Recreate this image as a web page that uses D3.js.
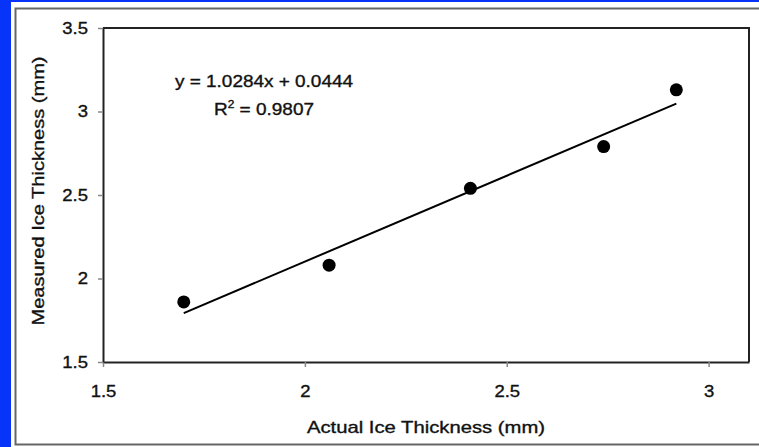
<!DOCTYPE html>
<html>
<head>
  <meta charset="utf-8">
  <title>Measured vs Actual Ice Thickness</title>
  <script src="https://cdn.jsdelivr.net/npm/d3@7/dist/d3.min.js"></script>
  <style>
    body { margin: 0; background: #0834fa; }
    text { font-family: "Liberation Sans", Arial, sans-serif; fill: #111; stroke: #111; stroke-width: 0.35px; }
  </style>
</head>
<body>
  <div id="chart"></div>
  <script>
    // data
    var actualThickness = [1.70, 2.06, 2.41, 2.74, 2.92];
    var measuredThickness = [1.86, 2.08, 2.54, 2.79, 3.13];
    var xTicks = [1.5, 2, 2.5, 3];
    var yTicks = [1.5, 2, 2.5, 3, 3.5];
    var xTickLabels = ["1.5", "2", "2.5", "3"];
    var yTickLabels = ["1.5", "2", "2.5", "3", "3.5"];
    var fitSlope = 1.0284;
    var fitIntercept = 0.0444;
    var rSquared = "0.9807";

    var width = 759, height = 447;
    var margin = { top: 28, right: 10, bottom: 85, left: 103 };

    var svg = d3.select("#chart")
      .append("svg")
      .attr("width", width)
      .attr("height", height);

    // blue slide background + white panel
    svg.append("rect")
      .attr("width", width).attr("height", height)
      .attr("fill", "#0834fa");
    svg.append("rect")
      .attr("x", 11).attr("y", 2)
      .attr("width", width - 11).attr("height", height - 2)
      .attr("fill", "#fff");
    svg.append("path")
      .attr("d", "M" + width + ",8.5H15.5V444.5H" + width)
      .attr("fill", "none")
      .attr("stroke", "#666")
      .attr("stroke-width", 2);

    var x = d3.scaleLinear()
      .domain([1.5, 3.1])
      .range([margin.left, width - margin.right]);
    var y = d3.scaleLinear()
      .domain([1.5, 3.5])
      .range([height - margin.bottom, margin.top]);

    // x axis
    var xAxis = svg.append("g")
      .attr("transform", "translate(0," + y(1.5) + ")")
      .call(d3.axisBottom(x)
        .tickValues(xTicks)
        .tickSize(5)
        .tickSizeOuter(0)
        .tickPadding(18)
        .tickFormat(function (d, i) { return xTickLabels[i]; }));

    // y axis
    var yAxis = svg.append("g")
      .attr("transform", "translate(" + x(1.5) + ",0)")
      .call(d3.axisLeft(y)
        .tickValues(yTicks)
        .tickSize(5)
        .tickSizeOuter(0)
        .tickPadding(10)
        .tickFormat(function (d, i) { return yTickLabels[i]; }));

    [xAxis, yAxis].forEach(function (g) {
      g.select(".domain").attr("stroke", "#222").attr("stroke-width", 2);
      g.selectAll(".tick line").attr("stroke", "#888").attr("stroke-width", 1.5);
      g.selectAll(".tick text")
        .attr("font-family", "Liberation Sans, Arial, sans-serif")
        .attr("font-size", 16.5)
        .attr("fill", "#111")
        .each(function () {
          // glyphs in the picture are a bit wider than Arial
          d3.select(this)
            .attr("lengthAdjust", "spacingAndGlyphs")
            .attr("textLength", this.getComputedTextLength() * 1.12);
        });
    });

    // top and right frame
    svg.append("path")
      .attr("d", "M" + x(1.5) + "," + y(3.5) + "H" + x(3.1) + "V" + y(1.5))
      .attr("fill", "none")
      .attr("stroke", "#222")
      .attr("stroke-width", 2);

    // linear fit over the data range
    var xMin = d3.min(actualThickness), xMax = d3.max(actualThickness);
    svg.append("line")
      .attr("x1", x(xMin)).attr("y1", y(fitSlope * xMin + fitIntercept))
      .attr("x2", x(xMax)).attr("y2", y(fitSlope * xMax + fitIntercept))
      .attr("stroke", "#000")
      .attr("stroke-width", 2);

    // points
    svg.append("g")
      .selectAll("circle")
      .data(actualThickness)
      .enter()
      .append("circle")
      .attr("cx", function (d) { return x(d); })
      .attr("cy", function (d, i) { return y(measuredThickness[i]); })
      .attr("r", 6.5)
      .attr("fill", "#000");

    // equation
    svg.append("text")
      .attr("x", 264).attr("y", 87)
      .attr("text-anchor", "middle")
      .attr("font-size", 16)
      .attr("lengthAdjust", "spacingAndGlyphs")
      .attr("textLength", 178)
      .text("y = " + fitSlope + "x + " + fitIntercept);

    var r2 = svg.append("text")
      .attr("x", 264).attr("y", 115)
      .attr("text-anchor", "middle")
      .attr("font-size", 16)
      .attr("lengthAdjust", "spacingAndGlyphs")
      .attr("textLength", 100);
    r2.append("tspan").text("R");
    r2.append("tspan").attr("font-size", 10).attr("dy", -7).text("2");
    r2.append("tspan").attr("dy", 7).text(" = " + rSquared);

    // axis titles
    svg.append("text")
      .attr("x", 426).attr("y", 433)
      .attr("text-anchor", "middle")
      .attr("font-size", 17)
      .attr("lengthAdjust", "spacingAndGlyphs")
      .attr("textLength", 238)
      .text("Actual Ice Thickness (mm)");

    svg.append("text")
      .attr("transform", "translate(43.5,191) rotate(-90)")
      .attr("text-anchor", "middle")
      .attr("font-size", 16)
      .attr("lengthAdjust", "spacingAndGlyphs")
      .attr("textLength", 269)
      .text("Measured Ice Thickness (mm)");
  </script>
</body>
</html>
